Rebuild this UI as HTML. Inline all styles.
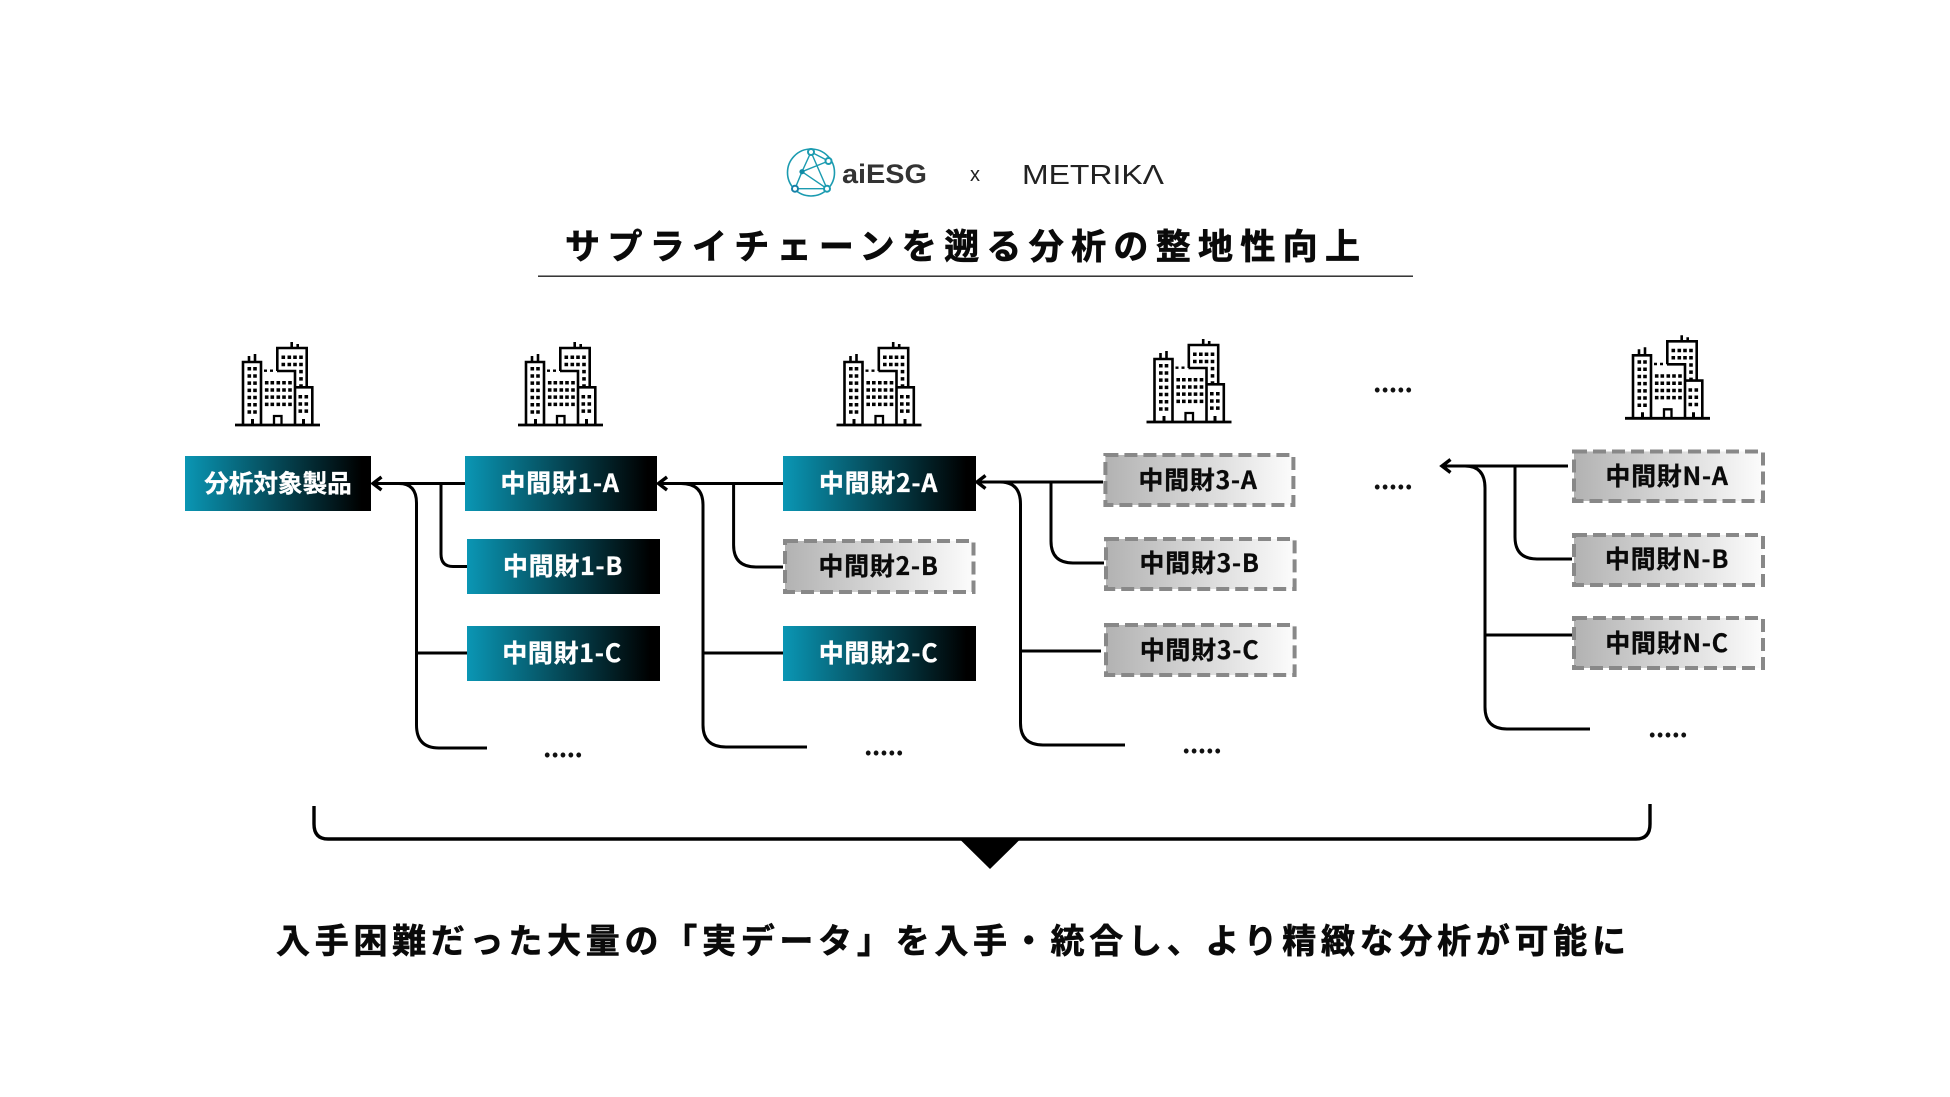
<!DOCTYPE html>
<html lang="ja">
<head>
<meta charset="utf-8">
<title>サプライチェーンを遡る分析の整地性向上</title>
<style>
html,body{margin:0;padding:0;background:#fff;width:1950px;height:1097px;overflow:hidden}
svg{display:block}
text{font-family:"Liberation Sans","Noto Sans CJK JP",sans-serif}
.j{font-family:"Noto Sans CJK JP","Liberation Sans",sans-serif;font-weight:700}
.l{font-size:25px;text-anchor:middle;letter-spacing:.7px;stroke-width:.3px}
.w{fill:#fff;stroke:#fff}.k{fill:#0a0a0a;stroke:#0a0a0a}
.d{font-size:26px;fill:#111}
.c{fill:none;stroke:#000;stroke-width:3;stroke-linecap:butt}
.a{fill:none;stroke:#000;stroke-width:3.4}
.g{fill:url(#gg);stroke:#888;stroke-width:4;stroke-dasharray:13 6}
</style>
</head>
<body>
<svg width="1950" height="1097" viewBox="0 0 1950 1097" xmlns="http://www.w3.org/2000/svg">
<defs>
<linearGradient id="tg" x1="0" x2="1" y1="0" y2="0"><stop offset="0" stop-color="#0a96b4"/><stop offset=".95" stop-color="#000"/></linearGradient>
<linearGradient id="gg" x1="0" x2="1" y1="0" y2="0"><stop offset="0" stop-color="#b2b2b2"/><stop offset="1" stop-color="#fcfcfc"/></linearGradient>
<g id="b">
<g fill="none" stroke="#000" stroke-width="2.6">
<path d="M10 90H95" stroke-width="2.8"/>
<path d="M18 89V27H36V89"/>
<path d="M52 36H70V89"/>
<path d="M52.3 36V13H81.7V52"/>
<path d="M70.7 52.3H87.3V89"/>
<path d="M24 27V21M30 27V19M66.7 13V7M72.7 13V9"/>
<path d="M49 89V81H56.5V89" stroke-width="2.3"/>
<path d="M27.5 89V84M78.5 89V84" stroke-width="3"/>
<path d="M39 35.7H42M45 35.7H48" stroke-width="2.4"/>
</g>
<g fill="none" stroke="#000" stroke-width="3.6" stroke-dasharray="3.5 3.7">
<path d="M24.3 32V80M30 32V80"/>
<path d="M58.3 20.5V34M64.3 20.5V34M70 20.5V34M76 20.5V52"/>
<path d="M41.7 46V73M47.3 46V73M53.3 46V73M59 46V73M65 46V73"/>
<path d="M75.3 60V81M81.3 60V81"/>
</g>
</g>
</defs>

<!-- Logos -->
<g fill="none" stroke="#1b9bb0" stroke-width="1.6">
<circle cx="811" cy="172.5" r="23.5"/>
<path d="M811 152L802 171.7M811 152L827 188.7M802 171.7L828.5 161M811 152L828.5 161M802 171.7L827 188.7M802 171.7L795 188.7M795 188.7L827 188.7" stroke-width="1.4"/>
<circle cx="811" cy="152" r="3" fill="#fff" stroke-width="2"/>
<circle cx="828.5" cy="161" r="3" fill="#fff" stroke-width="2"/>
<circle cx="827" cy="188.7" r="3" fill="#fff" stroke-width="2"/>
<circle cx="795" cy="188.7" r="3" fill="#fff" stroke="#1580a8" stroke-width="2"/>
<circle cx="802" cy="171.7" r="2.6" fill="#0f8aa5" stroke="none"/>
</g>
<text x="842" y="183" font-size="27" font-weight="700" fill="#333" textLength="85" lengthAdjust="spacingAndGlyphs">aiESG</text>
<text x="970" y="181" font-size="20" fill="#222">x</text>
<text x="1022" y="184" font-size="28" fill="#222" textLength="142" lengthAdjust="spacingAndGlyphs">METRIKΛ</text>

<!-- Title -->
<text class="j" x="565" y="259" font-size="35" fill="#0a0a0a" stroke="#0a0a0a" stroke-width=".7" textLength="795">サプライチェーンを遡る分析の整地性向上</text>
<rect x="538" y="275.5" width="875" height="1.4" fill="#222"/>

<!-- Buildings -->
<use href="#b" x="225" y="335"/>
<use href="#b" x="508" y="335"/>
<use href="#b" x="826.5" y="335"/>
<use href="#b" x="1136.5" y="332"/>
<use href="#b" x="1615" y="328.3"/>

<!-- Teal boxes -->
<rect x="185" y="456" width="186" height="55" fill="url(#tg)"/>
<rect x="465" y="456" width="192" height="55" fill="url(#tg)"/>
<rect x="467" y="539" width="193" height="55" fill="url(#tg)"/>
<rect x="467" y="626" width="193" height="55" fill="url(#tg)"/>
<rect x="783" y="456" width="193" height="55" fill="url(#tg)"/>
<rect x="783" y="626" width="193" height="55" fill="url(#tg)"/>

<!-- Gray dashed boxes -->
<rect x="785" y="541" width="188.5" height="51" class="g"/>
<rect x="1105.4" y="455" width="188" height="50" class="g"/>
<rect x="1106" y="539" width="188.6" height="50" class="g"/>
<rect x="1106" y="625" width="188.6" height="50" class="g"/>
<rect x="1574" y="451.5" width="189" height="49.5" class="g"/>
<rect x="1574" y="535" width="189" height="50" class="g"/>
<rect x="1574" y="618" width="189" height="50" class="g"/>

<!-- Labels -->
<text class="j l w" x="278" y="492" style="font-size:24.6px;letter-spacing:0">分析対象製品</text>
<text class="j l w" x="560" y="492">中間財1-A</text>
<text class="j l w" x="563" y="575">中間財1-B</text>
<text class="j l w" x="562" y="662">中間財1-C</text>
<text class="j l w" x="878.5" y="492">中間財2-A</text>
<text class="j l k" x="878.5" y="575">中間財2-B</text>
<text class="j l w" x="878.5" y="662">中間財2-C</text>
<text class="j l k" x="1198" y="489">中間財3-A</text>
<text class="j l k" x="1199.5" y="572">中間財3-B</text>
<text class="j l k" x="1199.5" y="659">中間財3-C</text>
<text class="j l k" x="1667" y="485">中間財N-A</text>
<text class="j l k" x="1667" y="568">中間財N-B</text>
<text class="j l k" x="1667" y="652">中間財N-C</text>

<!-- Connectors -->
<path class="c" d="M465 483.5H373M441 483.5V554Q441 566.5 453 566.5H467M399 483.5Q416.5 483.5 416.5 503V725Q416.5 748 439 748H487M416.5 653H467"/>
<path class="a" d="M381.5 477L373 483.5L381.5 490"/>
<path class="c" d="M783 483.5H660M733.6 483.5V545Q733.6 567 756 567H783M681 483.5Q703 483.5 703 505V725Q703 747 726 747H807M703 653H783"/>
<path class="a" d="M667 477L658.5 483.5L667 490"/>
<path class="c" d="M1103 482H977M1051 482V541Q1051 563 1073 563H1104M1000 482Q1020.5 482 1020.5 504V723Q1020.5 745 1043 745H1125M1020.5 651H1101"/>
<path class="a" d="M985.5 475.5L977 482L985.5 488.5"/>
<path class="c" d="M1568 466H1442M1515 466V537Q1515 559 1537 559H1572M1465 466Q1485 466 1485 488V707Q1485 729 1507 729H1590M1485 635H1572"/>
<path class="a" d="M1450.5 459.5L1442 466L1450.5 472.5"/>

<!-- Dots -->
<text class="j d" x="543" y="757" textLength="40">.....</text>
<text class="j d" x="864" y="755" textLength="40">.....</text>
<text class="j d" x="1182" y="753" textLength="40">.....</text>
<text class="j d" x="1648" y="737" textLength="40">.....</text>
<text class="j d" x="1373" y="392" textLength="40">.....</text>
<text class="j d" x="1373" y="489" textLength="40">.....</text>

<!-- Bracket -->
<path d="M314 806V824Q314 839 328 839H1636Q1650 839 1650 824V804" fill="none" stroke="#000" stroke-width="3.4"/>
<path d="M959.5 839H1020.5L990 869Z" fill="#000"/>

<!-- Bottom text -->
<text class="j" x="276" y="953" font-size="34" fill="#0a0a0a" stroke="#0a0a0a" stroke-width=".6" textLength="1350">入手困難だった大量の「実データ」を入手・統合し、より精緻な分析が可能に</text>
</svg>
</body>
</html>
